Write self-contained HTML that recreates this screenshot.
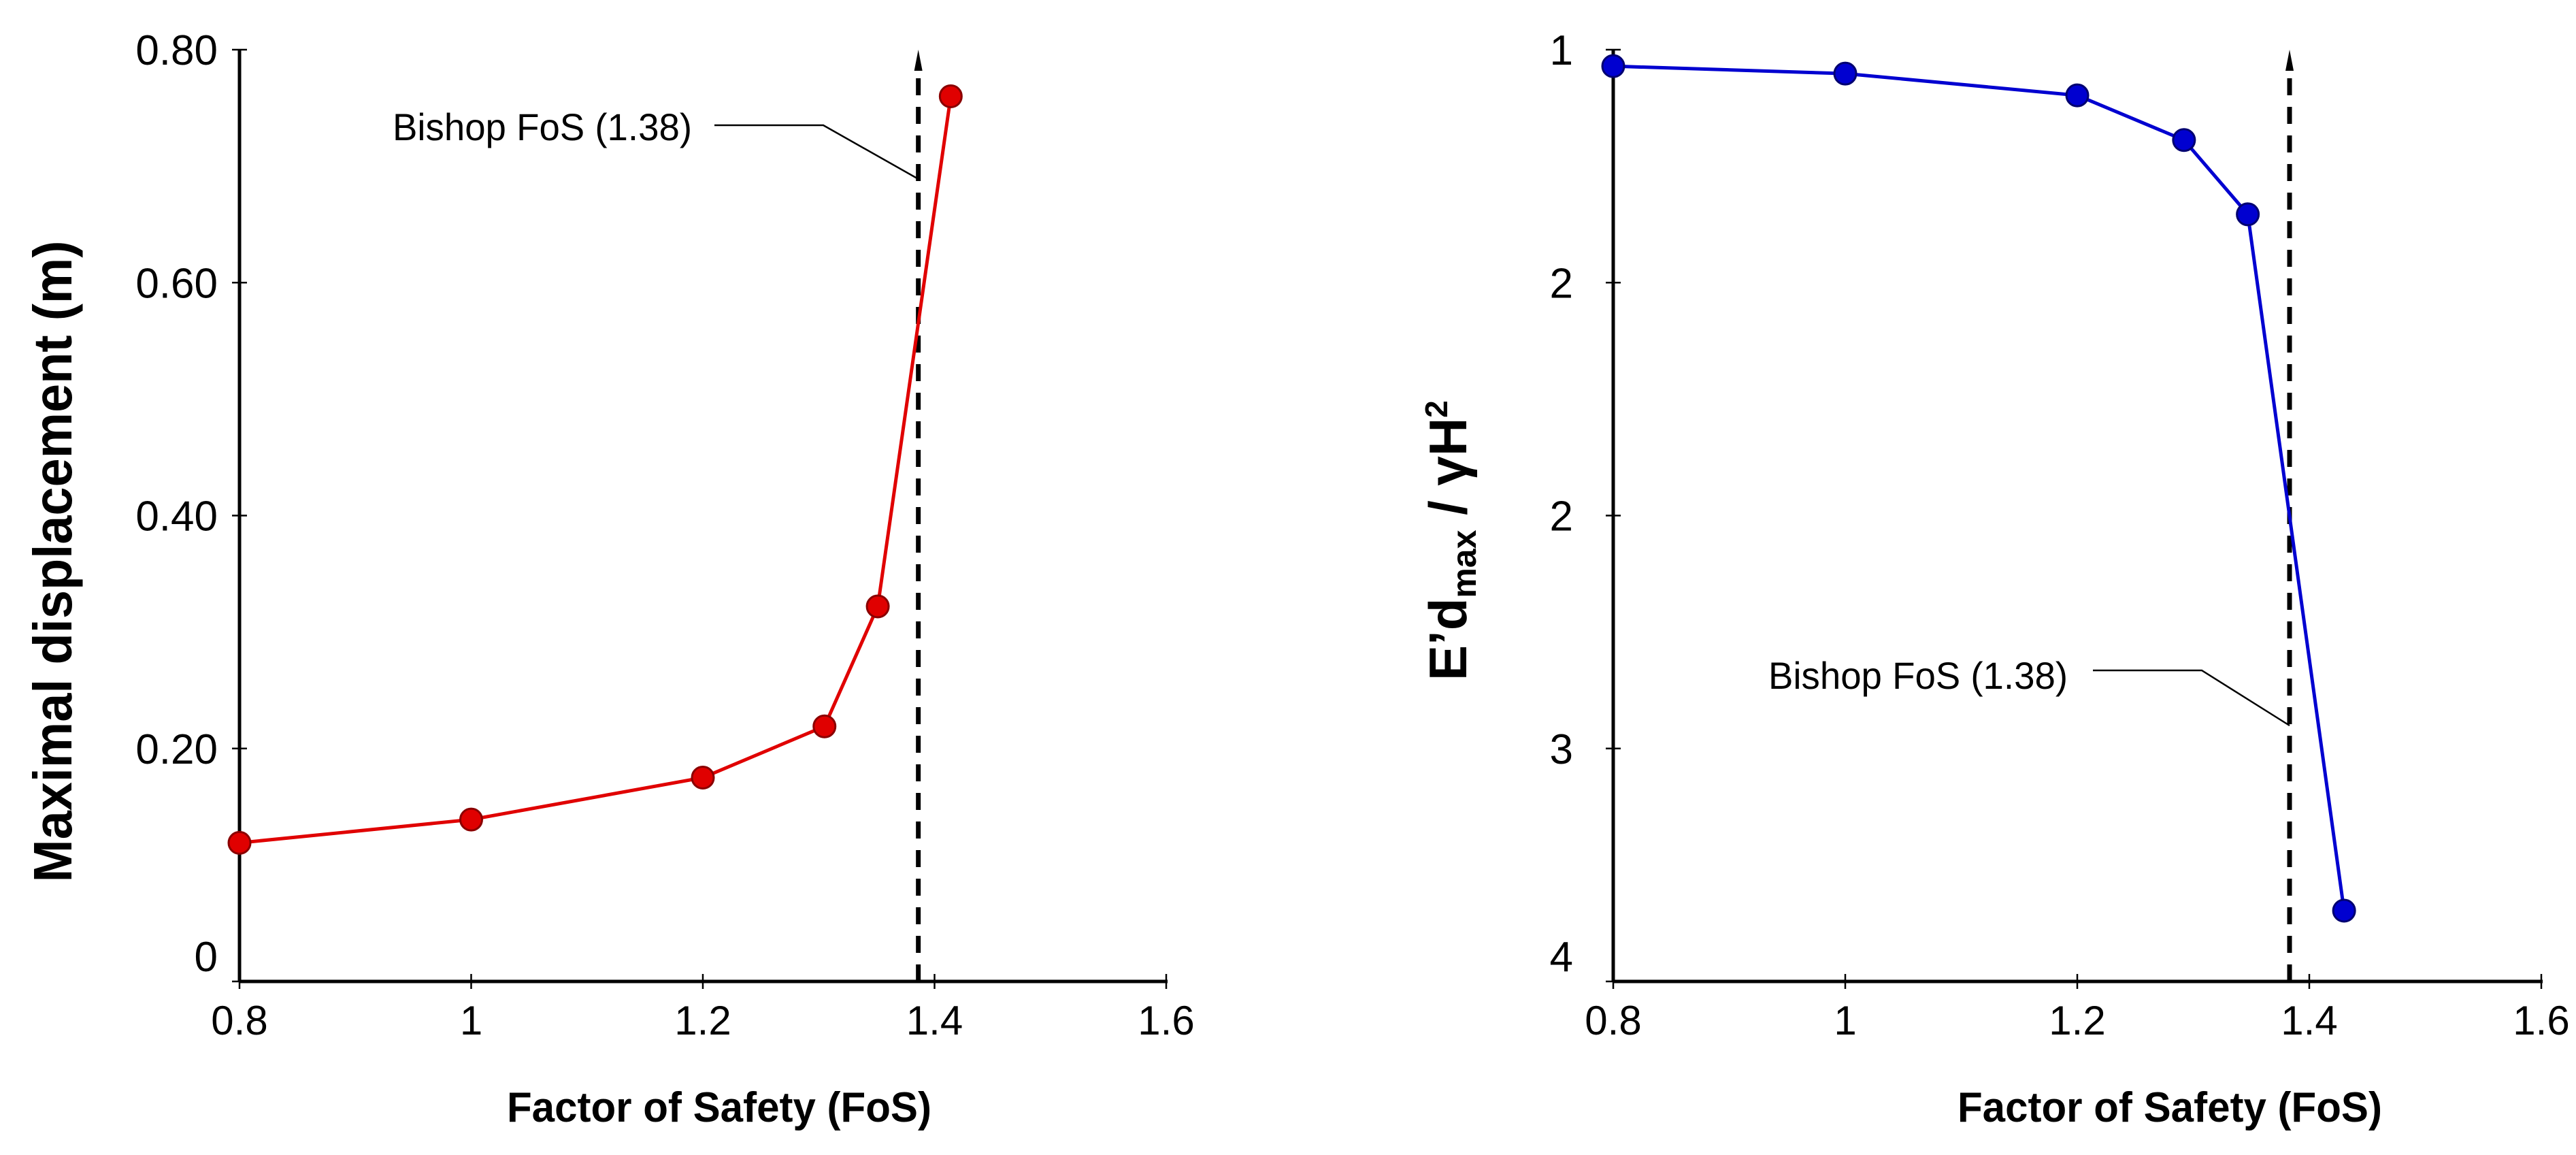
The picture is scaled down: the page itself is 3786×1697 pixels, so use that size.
<!DOCTYPE html>
<html><head><meta charset="utf-8"><style>
html,body{margin:0;padding:0;background:#fff;}
svg{display:block;font-family:"Liberation Sans",Arial,sans-serif;}
</style></head><body>
<svg id="fig" width="3786" height="1697" viewBox="0 0 3786 1697" xmlns="http://www.w3.org/2000/svg">
<g id="left"></g>
<g id="right"></g>
</svg>
<script>
const xTicks = [0.8, 1.0, 1.2, 1.4, 1.6];
const xTickLabels = ["0.8", "1", "1.2", "1.4", "1.6"];
const leftFos = [0.8, 1.0, 1.2, 1.305, 1.351, 1.414];
const leftDisp = [0.119, 0.139, 0.175, 0.219, 0.322, 0.760];
const leftYTicks = [0, 0.2, 0.4, 0.6, 0.8];
const leftYTickLabels = ["0", "0.20", "0.40", "0.60", "0.80"];
const leftBishop = 1.386;
const rightFos = [0.8, 1.0, 1.2, 1.292, 1.347, 1.430];
const rightNorm = [1.053, 1.077, 1.147, 1.291, 1.530, 3.772];
const rightYTicks = [1, 1.75, 2.5, 3.25, 4];
const rightYTickLabels = ["1", "2", "2", "3", "4"];
const rightBishop = 1.383;

const NS = "http://www.w3.org/2000/svg";
function mk(parent, tag, attrs, text) {
  const e = document.createElementNS(NS, tag);
  for (const k in attrs) e.setAttribute(k, attrs[k]);
  if (text !== undefined) e.textContent = text;
  parent.appendChild(e);
  return e;
}

function drawChart(g, o) {
  const X = v => o.x0 + (v - 0.8) / 0.8 * (o.x1 - o.x0);
  const Y = v => o.yTop + (v - o.dTop) / (o.dBot - o.dTop) * (o.yBot - o.yTop);
  let e = mk(g, "line", {x1: o.x0, y1: o.yTop, x2: o.x0, y2: o.yBot, stroke: "#000", "stroke-width": 5});
  
  
  e = mk(g, "line", {x1: o.x0, y1: o.yBot, x2: o.x1 + 2, y2: o.yBot, stroke: "#000", "stroke-width": 5});
  
  
  xTicks.forEach((v, i) => {
    const t = mk(g, "line", {x1: X(v), y1: o.yBot - 11, x2: X(v), y2: o.yBot + 11, stroke: "#000", "stroke-width": 2.5});
    
    
    const l = mk(g, "text", {x: X(v), y: 1520, "font-size": 60, "text-anchor": "middle", fill: "#000"}, xTickLabels[i]);
    
    
  });
  o.yTicks.forEach((v, i) => {
    const t = mk(g, "line", {x1: o.x0 - 11, y1: Y(v), x2: o.x0 + 11, y2: Y(v), stroke: "#000", "stroke-width": 2.5});
    
    
    const yy = (v === o.dBot) ? Y(v) - 15 : Y(v) + 22;
    const l = mk(g, "text", {x: o.labRight, y: yy, "font-size": 62, "text-anchor": "end", fill: "#000"}, o.yLabels[i]);
    
    
  });
  const bx = X(o.bishop);
  e = mk(g, "line", {x1: bx, y1: o.yBot, x2: bx, y2: 100, stroke: "#000", "stroke-width": 7, "stroke-dasharray": "25 17"});
  
  
  e = mk(g, "polygon", {points: `${bx},73 ${bx-6},104 ${bx+6},104`, fill: "#000"});
  
  
  e = mk(g, "polyline", {points: `${o.ann.lx},${o.ann.ly} ${o.ann.kx},${o.ann.ly} ${bx},${o.ann.ey}`, fill: "none", stroke: "#000", "stroke-width": 2.5});
  
  
  e = mk(g, "text", {x: o.ann.tx, y: o.ann.ty, "font-size": 56, textLength: 440, lengthAdjust: "spacingAndGlyphs", fill: "#000"}, "Bishop FoS (1.38)");
  
  
  const pts = o.xs.map((v, i) => `${X(v)},${Y(o.ys[i])}`).join(" ");
  e = mk(g, "polyline", {points: pts, fill: "none", stroke: o.color, "stroke-width": 5});
  
  
  o.xs.forEach((v, i) => {
    const c = mk(g, "circle", {cx: X(v), cy: Y(o.ys[i]), r: 16, fill: o.color, stroke: o.edge, "stroke-width": 3});
    
    
  });
  e = mk(g, "text", {x: o.xTitleX, y: 1648, "font-size": 62, "font-weight": "bold", "text-anchor": "middle", textLength: 624, lengthAdjust: "spacingAndGlyphs", fill: "#000"}, "Factor of Safety (FoS)");
  
  
}

drawChart(document.getElementById("left"), {
  x0: 352, x1: 1714, yTop: 73, yBot: 1442, dTop: 0.8, dBot: 0,
  yTicks: leftYTicks, yLabels: leftYTickLabels, labRight: 320, bishop: leftBishop,
  xs: leftFos, ys: leftDisp, color: "#e00000", edge: "#8a0000", xTitleX: 1057,
  ann: {tx: 577, ty: 206, lx: 1050, kx: 1210, ly: 184, ey: 263}
});
drawChart(document.getElementById("right"), {
  x0: 2371, x1: 3735, yTop: 73, yBot: 1442, dTop: 1, dBot: 4,
  yTicks: rightYTicks, yLabels: rightYTickLabels, labRight: 2312, bishop: rightBishop,
  xs: rightFos, ys: rightNorm, color: "#0000d0", edge: "#000070", xTitleX: 3189,
  ann: {tx: 2599, ty: 1012, lx: 3076, kx: 3236, ly: 985, ey: 1066}
});

const svg = document.getElementById("fig");
let t = mk(svg, "text", {transform: "translate(105,825) rotate(-90)", "font-size": 80, "font-weight": "bold", "text-anchor": "middle", textLength: 943, lengthAdjust: "spacingAndGlyphs", fill: "#000"}, "Maximal displacement (m)");


t = mk(svg, "text", {transform: "translate(2155,1000) rotate(-90)", "font-size": 78, "font-weight": "bold", fill: "#000"});


mk(t, "tspan", {}, "E’d");
mk(t, "tspan", {"font-size": 50, dy: 14}, "max");
mk(t, "tspan", {dy: -14}, " / γH");
mk(t, "tspan", {"font-size": 46, dy: -28}, "2");
</script>
</body></html>
